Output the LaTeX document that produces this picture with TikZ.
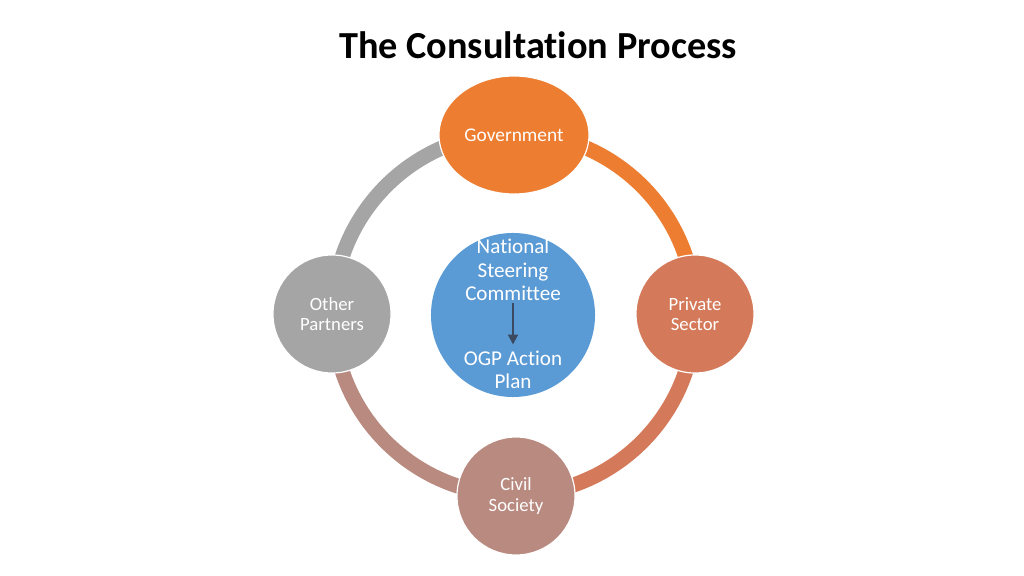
\documentclass[tikz,border=0pt]{standalone}
\usepackage{fontspec}
\setmainfont{Carlito}[Ligatures=NoCommon]
\usetikzlibrary{shapes.geometric,arrows.meta}
\definecolor{govorange}{HTML}{ED7D31}
\definecolor{privsector}{HTML}{D47A5A}
\definecolor{civilrose}{HTML}{B88A80}
\definecolor{othergray}{HTML}{A5A5A5}
\definecolor{nscblue}{HTML}{5B9BD5}
\definecolor{arrowslate}{HTML}{3B4A60}
\tikzset{
  partner/.style={circle, fill=#1, draw=white, line width=0.03cm, minimum size=2.95cm,
    inner sep=0pt, text=white, align=center, font=\fontsize{13.3}{14.3}\selectfont},
  ringarc/.style={line width=0.375cm, draw=#1},
  centertext/.style={text=white, align=center, inner sep=0pt, font=\fontsize{15}{16.7}\selectfont}
}
\begin{document}
\begin{tikzpicture}[x=0.025cm, y=-0.025cm]
                    \useasboundingbox (0,0) rectangle (1024,576);
                    {\footnotesize

                    % Marking the title
                    \node (title) at (538,45) {\fontsize{27.2}{32}\selectfont\bfseries The Consultation Process};%

                    % Drawing ring segment Other Partners Government
                    \draw [ringarc=othergray] (514,314) ++(180:181) arc (180:270:181);%

                    % Drawing ring segment Government Private Sector
                    \draw [ringarc=govorange] (514,314) ++(270:181) arc (270:360:181);%

                    % Drawing ring segment Private Sector Civil Society
                    \draw [ringarc=privsector] (514,314) ++(0:181) arc (0:90:181);%

                    % Drawing ring segment Civil Society Other Partners
                    \draw [ringarc=civilrose] (514,314) ++(90:181) arc (90:180:181);%

                    % Marking node Government
                    \node [partner=govorange, ellipse, minimum width=3.75cm, minimum height=2.95cm,
                      font=\fontsize{13.8}{15}\selectfont] (gov) at (514,135) {Government};%

                    % Marking node Private Sector
                    \node [partner=privsector] (priv) at (695,314) {Private\\Sector};%

                    % Marking node Civil Society
                    \node [partner=civilrose] (civil) at (516,496) {Civil\\Society};%

                    % Marking node Other Partners
                    \node [partner=othergray] (other) at (332,314) {Other\\Partners};%

                    % Marking the centre disc
                    \node [circle, fill=nscblue, minimum size=4.1cm, inner sep=0pt] (nsc) at (513,315) {};%

                    % Marking text National Steering Committee
                    \node [centertext] (steer) at (513,270) {National\\Steering\\Committee};%

                    % Marking text OGP Action Plan
                    \node [centertext] (ogp) at (513,370) {OGP Action\\Plan};%

                    % Drawing arrow committee to plan
                    \draw [-{Triangle[length=0.25cm,width=0.24cm]}, line width=0.07cm, arrowslate]
                      ([yshift=-0.05cm]steer.south) -- ([yshift=0.15cm]ogp.north);%
                    }
\end{tikzpicture}
\end{document}
